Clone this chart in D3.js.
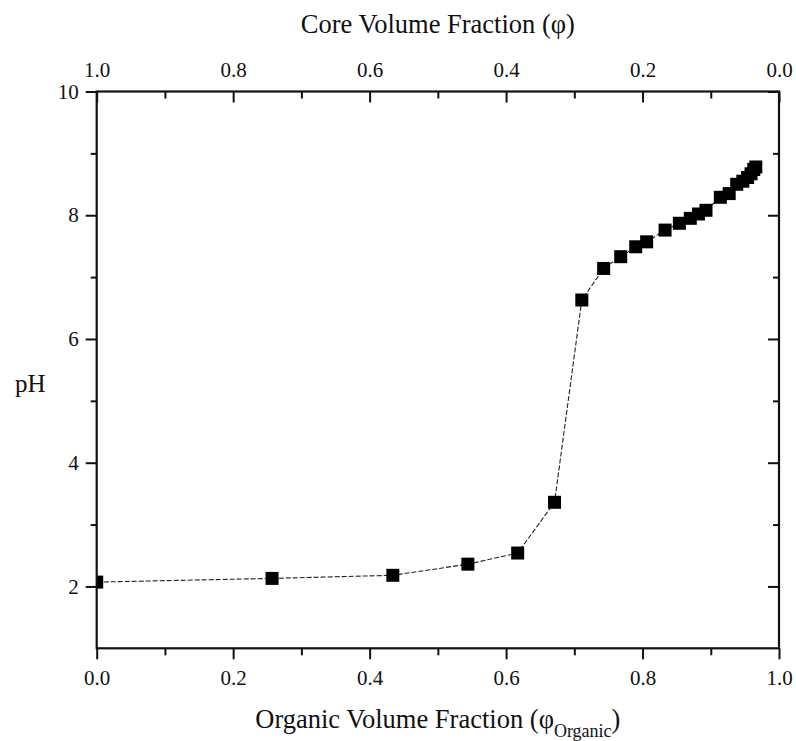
<!DOCTYPE html>
<html>
<head>
<meta charset="utf-8">
<script src="https://cdn.jsdelivr.net/npm/d3@7"></script>
<style>
  body { margin: 0; background: #fff; }
  text { font-family: "Liberation Serif", "Times New Roman", serif; fill: #111; }
</style>
</head>
<body>
<div id="chart"></div>
<script>
// data
const organicFraction = [0.0, 0.257, 0.434, 0.544, 0.617, 0.671, 0.711, 0.743, 0.768, 0.790, 0.806,
  0.833, 0.854, 0.870, 0.882, 0.893, 0.914, 0.927, 0.938, 0.947, 0.954, 0.959, 0.963, 0.966];
const pHValues = [2.07, 2.13, 2.18, 2.36, 2.54, 3.36, 6.63, 7.14, 7.33, 7.49, 7.57,
  7.76, 7.87, 7.95, 8.02, 8.08, 8.29, 8.35, 8.50, 8.55, 8.61, 8.67, 8.74, 8.78];
const xTicks = [0, 0.2, 0.4, 0.6, 0.8, 1.0];
const xMinorTicks = [0.1, 0.3, 0.5, 0.7, 0.9];
const yTicks = [2, 4, 6, 8, 10];
const yMinorTicks = [3, 5, 7, 9];

const W = 796, H = 741;
const margin = { top: 91.5, right: 17, bottom: 92.7, left: 96.7 };

const svg = d3.select("#chart").append("svg")
    .attr("width", W)
    .attr("height", H);

const x = d3.scaleLinear().domain([0, 1]).range([margin.left, W - margin.right]);
const xTop = d3.scaleLinear().domain([1, 0]).range([margin.left, W - margin.right]);
const y = d3.scaleLinear().domain([1, 10]).range([H - margin.bottom, margin.top]);

const fmt = d3.format(".1f");
const axisStyle = g => {
  g.select(".domain").remove();
  g.selectAll("line").attr("stroke", "#111").attr("stroke-width", 2);
  g.selectAll("text").style("font-size", "21px").attr("fill", "#111");
};

// bottom axis (ticks outward)
svg.append("g")
    .attr("transform", `translate(0,${y(1)})`)
    .call(d3.axisBottom(x).tickValues(xTicks).tickFormat(fmt).tickSize(11).tickPadding(11))
    .call(axisStyle);
svg.append("g")
    .attr("transform", `translate(0,${y(1)})`)
    .call(d3.axisBottom(x).tickValues(xMinorTicks).tickFormat("").tickSize(7))
    .call(axisStyle);

// top axis (ticks inward)
svg.append("g")
    .attr("transform", `translate(0,${y(10)})`)
    .call(d3.axisTop(xTop).tickValues(xTicks).tickFormat(fmt).tickSizeInner(-11).tickSizeOuter(0).tickPadding(15))
    .call(axisStyle);
svg.append("g")
    .attr("transform", `translate(0,${y(10)})`)
    .call(d3.axisTop(xTop).tickValues(xMinorTicks).tickFormat("").tickSizeInner(-7).tickSizeOuter(0))
    .call(axisStyle);

// left axis (ticks outward)
svg.append("g")
    .attr("transform", `translate(${x(0)},0)`)
    .call(d3.axisLeft(y).tickValues(yTicks).tickSize(11).tickPadding(7))
    .call(axisStyle);
svg.append("g")
    .attr("transform", `translate(${x(0)},0)`)
    .call(d3.axisLeft(y).tickValues(yMinorTicks).tickFormat("").tickSize(6))
    .call(axisStyle);

// right axis (ticks inward)
svg.append("g")
    .attr("transform", `translate(${x(1)},0)`)
    .call(d3.axisRight(y).tickValues(yTicks).tickFormat("").tickSizeInner(-11).tickSizeOuter(0))
    .call(axisStyle);
svg.append("g")
    .attr("transform", `translate(${x(1)},0)`)
    .call(d3.axisRight(y).tickValues(yMinorTicks).tickFormat("").tickSizeInner(-6).tickSizeOuter(0))
    .call(axisStyle);

// clip for data
svg.append("clipPath").attr("id", "plot-clip")
  .append("rect")
    .attr("x", x(0)).attr("y", y(10))
    .attr("width", x(1) - x(0)).attr("height", y(1) - y(10));

const points = organicFraction.map((v, i) => ({ x: v, y: pHValues[i] }));

const plot = svg.append("g").attr("clip-path", "url(#plot-clip)");

plot.append("path")
    .datum(points)
    .attr("fill", "none")
    .attr("stroke", "#222")
    .attr("stroke-width", 1.1)
    .attr("stroke-dasharray", "5,2")
    .attr("d", d3.line().x(d => x(d.x)).y(d => y(d.y)));

const size = 13;
plot.selectAll("rect.pt")
  .data(points)
  .enter().append("rect")
    .attr("class", "pt")
    .attr("x", d => x(d.x) - size / 2)
    .attr("y", d => y(d.y) - size / 2)
    .attr("width", size)
    .attr("height", size)
    .attr("fill", "#000");

// frame lines
svg.append("rect")
    .attr("x", x(0)).attr("y", y(10))
    .attr("width", x(1) - x(0)).attr("height", y(1) - y(10))
    .attr("fill", "none")
    .attr("stroke", "#111")
    .attr("stroke-width", 2.2);

// titles
svg.append("text")
    .attr("x", (x(0) + x(1)) / 2)
    .attr("y", 33)
    .attr("text-anchor", "middle")
    .style("font-size", "26.5px")
    .text("Core Volume Fraction (φ)");

const bottomTitle = svg.append("text")
    .attr("x", (x(0) + x(1)) / 2)
    .attr("y", 728)
    .attr("text-anchor", "middle")
    .style("font-size", "26.5px");
bottomTitle.append("tspan").text("Organic Volume Fraction (φ");
bottomTitle.append("tspan").attr("dy", 9).style("font-size", "18px").text("Organic");
bottomTitle.append("tspan").attr("dy", -9).text(")");

svg.append("text")
    .attr("x", 15)
    .attr("y", 392)
    .style("font-size", "25px")
    .text("pH");
</script>
</body>
</html>
